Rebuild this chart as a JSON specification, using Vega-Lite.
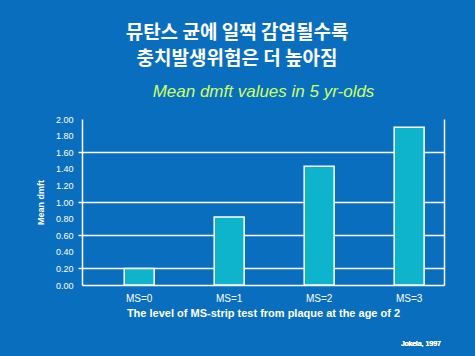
{
  "$schema": "https://vega.github.io/schema/vega-lite/v6.json",
  "width": 362,
  "height": 166,
  "autosize": {"type": "none"},
  "padding": {"left": 82, "top": 119, "right": 31, "bottom": 71},
  "background": "#0a6ebf",
  "config": {
    "view": {"stroke": null},
    "font": "Liberation Sans"
  },
  "title": {
    "text": ["뮤탄스 균에 일찍 감염될수록", "충치발생위험은 더 높아짐"],
    "font": "Noto Sans CJK KR",
    "fontSize": 19,
    "fontWeight": "bold",
    "color": "white",
    "lineHeight": 26,
    "anchor": "middle",
    "dx": -26,
    "offset": 13
  },
  "data": {
    "values": [
      {"ms": "MS=0", "dmft": 0.2},
      {"ms": "MS=1", "dmft": 0.82},
      {"ms": "MS=2", "dmft": 1.43},
      {"ms": "MS=3", "dmft": 1.9}
    ]
  },
  "resolve": {"axis": {"x": "independent", "y": "independent"}},
  "layer": [
    {
      "mark": {"type": "bar", "fill": "#0db4cc", "stroke": "white", "strokeWidth": 1.5},
      "encoding": {
        "x": {
          "field": "ms", "type": "nominal",
          "scale": {"paddingInner": 0.667, "paddingOuter": 0.345, "align": 0.68},
          "axis": {
            "orient": "bottom",
            "labelAngle": 0,
            "labelColor": "white",
            "labelFontSize": 10,
            "labelPadding": 8,
            "ticks": false,
            "domainColor": "white",
            "domainWidth": 1.5,
            "title": "The level of MS-strip test from plaque at the age of 2",
            "titleColor": "white",
            "titleFontSize": 11,
            "titleFontWeight": "bold",
            "titlePadding": 4
          }
        },
        "y": {
          "field": "dmft", "type": "quantitative",
          "scale": {"domain": [0, 2], "nice": false},
          "axis": {
            "orient": "left",
            "values": [0, 0.2, 0.4, 0.6, 0.8, 1, 1.2, 1.4, 1.6, 1.8, 2],
            "format": ".2f",
            "labelColor": "white",
            "labelFontSize": 9,
            "labelPadding": 5,
            "tickSize": 4,
            "tickColor": "white",
            "tickWidth": 1.5,
            "tickOpacity": {"condition": {"test": "datum.value == 0.2 || datum.value == 0.6 || datum.value == 1 || datum.value == 1.6", "value": 1}, "value": 0},
            "grid": true,
            "gridColor": "white",
            "gridWidth": 1.5,
            "gridOpacity": {"condition": {"test": "datum.value == 0.2 || datum.value == 0.6 || datum.value == 1 || datum.value == 1.6", "value": 1}, "value": 0},
            "domainColor": "white",
            "domainWidth": 1.5,
            "title": "Mean dmft",
            "titleColor": "white",
            "titleFontSize": 9,
            "titleFontWeight": "bold",
            "titlePadding": 10
          }
        }
      }
    },
    {
      "mark": {"type": "bar", "opacity": 0},
      "encoding": {
        "x": {
          "field": "ms", "type": "nominal",
          "axis": {
            "orient": "top",
            "labels": false,
            "ticks": false,
            "domain": false,
            "title": "Mean dmft values in 5 yr-olds",
            "titleColor": "#ccff66",
            "titleFontSize": 17,
            "titleFontStyle": "italic",
            "titleFontWeight": "normal",
            "titlePadding": 19
          }
        },
        "y": {
          "field": "dmft", "type": "quantitative",
          "axis": {
            "orient": "right",
            "labels": false,
            "ticks": false,
            "grid": false,
            "domainColor": "white",
            "domainWidth": 1.5,
            "title": null
          }
        }
      }
    },
    {
      "mark": {"type": "text", "color": "white", "fontSize": 7, "align": "center", "dx": 12},
      "encoding": {
        "x": {"datum": "MS=3", "type": "nominal", "axis": null},
        "y": {"datum": -0.71, "type": "quantitative", "axis": null},
        "text": {"value": "Jokela, 1997"}
      }
    }
  ]
}
